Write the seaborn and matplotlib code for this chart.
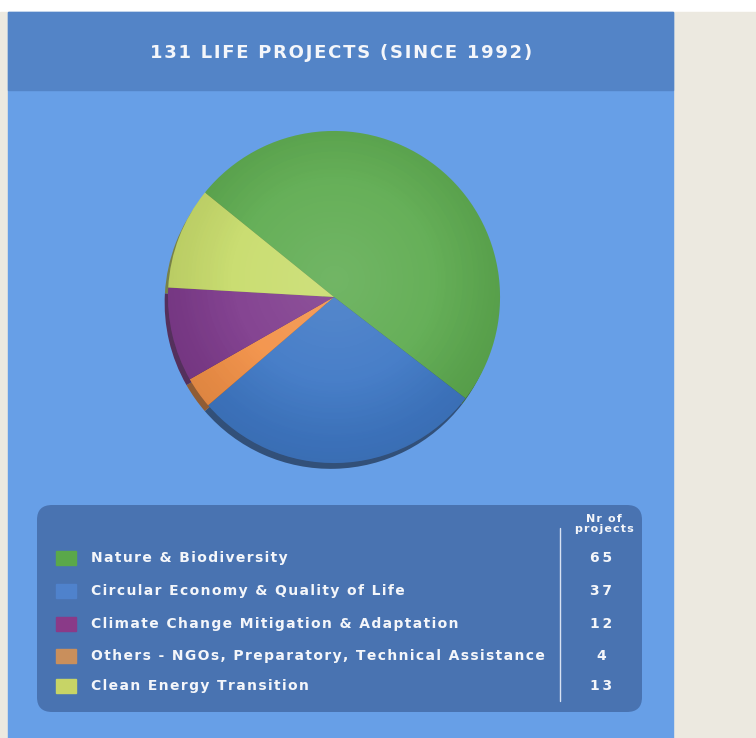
import numpy as np
import matplotlib
matplotlib.use("Agg")
import matplotlib.pyplot as plt
from matplotlib.patches import Rectangle, FancyBboxPatch, Circle
import seaborn as sns

# ---- data ----
title = "131 LIFE PROJECTS (SINCE 1992)"
categories = ["Nature & Biodiversity", "Circular Economy & Quality of Life",
              "Climate Change Mitigation & Adaptation",
              "Others - NGOs, Preparatory, Technical Assistance",
              "Clean Energy Transition"]
projects = [65, 37, 12, 4, 13]
pie_colors = ["#5fac51", "#4079c6", "#7f3c8d", "#f39248", "#c8dc6c"]
legend_colors = ["#5aa84a", "#4f82cc", "#8a3a88", "#c98f5c", "#c7d466"]
# clockwise order in the pie
pie_order = [0, 1, 3, 2, 4]

sns.set_theme(style="white")
plt.rcParams['font.family'] = ['DejaVu Sans']

W, H = 756, 738
fig = plt.figure(figsize=(W / 100, H / 100), dpi=100)
fig.patch.set_facecolor("#ffffff")

def fx(x):
    return x / W

def fy(y):
    return 1 - y / H

def spaced(s, sep="\u200a"):
    return sep.join(s)

# backgrounds
fig.patches.append(Rectangle((0, 0), 1, fy(12), transform=fig.transFigure,
                             color="#ece9e0", zorder=-3))
fig.patches.append(Rectangle((fx(8), 0), fx(665), fy(12), transform=fig.transFigure,
                             color="#679fe7", zorder=-2))
fig.patches.append(Rectangle((fx(8), fy(90)), fx(665), fy(12) - fy(90),
                             transform=fig.transFigure, color="#5384c7", zorder=-1))
fig.text(fx(341), fy(53), spaced(title), color="#f4f6fa", fontsize=13,
         fontweight="bold", ha="center", va="center", zorder=5)

# ---- pie ----
cx, cy, r = 334, 297, 166
ax = fig.add_axes([fx(cx - r - 10), fy(cy + r + 10), (2 * r + 20) / W, (2 * r + 20) / H])
ax.set_zorder(10)
ax.axis("off")
ax.patch.set_alpha(0)

vals = [projects[i] for i in pie_order]
cols = [pie_colors[i] for i in pie_order]
shadow_cols = [sns.dark_palette(c, n_colors=5)[2] for c in cols]
ax.pie(vals, colors=shadow_cols, startangle=141, counterclock=False,
       radius=1.0, center=(-0.02, -0.035), wedgeprops=dict(linewidth=0))
wedges, _ = ax.pie(vals, colors=cols, startangle=141, counterclock=False,
                   radius=1.0, center=(0, 0), wedgeprops=dict(linewidth=0))

# soft radial highlight
n = 300
xs = np.linspace(-1, 1, n)
X, Y = np.meshgrid(xs, xs)
R = np.sqrt(X ** 2 + (Y - 0.1) ** 2)
rgba = np.zeros((n, n, 4))
rgba[..., :3] = 1.0
rgba[..., 3] = np.clip(0.12 * (1 - R), 0, 1)
rgba2 = np.zeros((n, n, 4))
rgba2[..., 3] = np.clip(0.18 * (R - 0.6), 0, 1)
im = ax.imshow(rgba, extent=(-1, 1, -1, 1), origin="lower", zorder=3)
im2 = ax.imshow(rgba2, extent=(-1, 1, -1, 1), origin="lower", zorder=3)
clip = Circle((0, 0), 1.0, transform=ax.transData)
im.set_clip_path(clip)
im2.set_clip_path(clip)
ax.set_xlim(-1.06, 1.06)
ax.set_ylim(-1.06, 1.06)
ax.set_aspect("equal")

# ---- legend table ----
box = FancyBboxPatch((fx(37), fy(712)), fx(605), fy(505) - fy(712),
                     boxstyle="round,pad=0,rounding_size=0.02",
                     transform=fig.transFigure, facecolor="#4973b1",
                     edgecolor="none", zorder=3)
fig.patches.append(box)

rows_y = [558, 591, 624, 656, 686]
for i, (cat, val) in enumerate(zip(categories, projects)):
    y = rows_y[i]
    fig.patches.append(Rectangle((fx(56), fy(y + 7)), fx(20), fy(y - 7) - fy(y + 7),
                                 transform=fig.transFigure,
                                 color=legend_colors[i], zorder=4))
    fig.text(fx(91), fy(y), spaced(cat), color="#f4f6fa", fontsize=10,
             fontweight="bold", ha="left", va="center", zorder=5)
    fig.text(fx(601), fy(y), spaced(str(val), "\u2009"), color="#f4f6fa", fontsize=10,
             fontweight="bold", ha="center", va="center", zorder=5)

fig.lines.append(plt.Line2D([fx(560), fx(560)], [fy(528), fy(701)],
                            transform=fig.transFigure, color="#d8e2f2",
                            linewidth=1, zorder=5))
fig.text(fx(604), fy(524), spaced("Nr of") + "\n" + spaced("projects"), color="#f4f6fa",
         fontsize=8, fontweight="bold", ha="center", va="center",
         linespacing=1.0, zorder=5)

fig.savefig("out.png", dpi=100, facecolor=fig.get_facecolor())
